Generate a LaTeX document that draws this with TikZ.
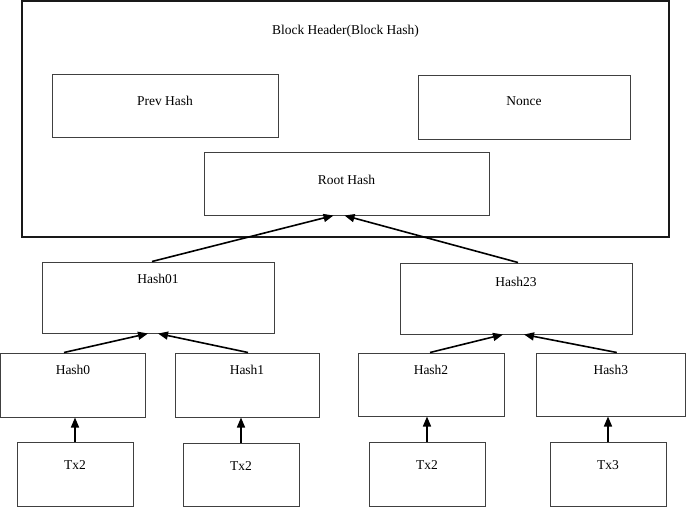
\documentclass[tikz,border=0pt]{standalone}
\usepackage{fontspec}
\setmainfont{Liberation Serif}
\usetikzlibrary{arrows.meta}

\begin{document}
\begin{tikzpicture}[x=1pt,y=-1pt,>={Triangle[length=10pt,width=8pt]},
  font=\fontsize{13.5}{16}\selectfont,
  box/.style={draw=black!75,line width=1pt,inner sep=0pt},
  tag/.style={anchor=center,yshift=-#1},
  link/.style={->,line width=1.6pt}]
\useasboundingbox (0,0) rectangle (686,507);
% block header
\node[box,draw=black!90,line width=1.4pt,minimum width=647,minimum height=236,
  label={[tag=31pt]north:Block Header(Block Hash)}] (header) at (345.5,119) {};
\node[box,minimum width=226,minimum height=63,label={[tag=27pt]north:Prev Hash}] (prev) at (165,105.5) {};
\node[box,minimum width=212,minimum height=64,label={[tag=27pt]north:Nonce}] (nonce) at (524,107) {};
\node[box,minimum width=285,minimum height=63,label={[tag=28pt]north:Root Hash}] (root) at (346.5,183.5) {};
% merkle tree
\node[box,minimum width=232,minimum height=71,label={[tag=17pt]north:Hash01}] (h01) at (158,297.5) {};
\node[box,minimum width=232,minimum height=71,label={[tag=19pt]north:Hash23}] (h23) at (516,298.5) {};
\node[box,minimum width=144.5,minimum height=64,label={[tag=17pt]north:Hash0}] (h0) at (73,385) {};
\node[box,minimum width=144,minimum height=64,label={[tag=17pt]north:Hash1}] (h1) at (247,385) {};
\node[box,minimum width=146,minimum height=63,label={[tag=17pt]north:Hash2}] (h2) at (431,384.5) {};
\node[box,minimum width=149.5,minimum height=63,label={[tag=17pt]north:Hash3}] (h3) at (610.75,384.5) {};
\node[box,minimum width=116,minimum height=64,label={[tag=24pt]north:Tx2}] (tx0) at (75,474) {};
\node[box,minimum width=116,minimum height=63,label={[tag=24pt]north:Tx2}] (tx1) at (241,474.5) {};
\node[box,minimum width=116,minimum height=64,label={[tag=24pt]north:Tx2}] (tx2) at (427,474) {};
\node[box,minimum width=116,minimum height=64,label={[tag=24pt]north:Tx3}] (tx3) at (608,474) {};
% arrows
\draw[link] ([xshift=-6pt]h01.north) -- ([xshift=-13pt]root.south);
\draw[link] ([xshift=2pt]h23.north) -- ([xshift=-2pt]root.south);
\draw[link] ([xshift=-9pt]h0.north) -- ([xshift=-10pt]h01.south);
\draw[link] ([xshift=1pt]h1.north) -- (h01.south);
\draw[link] ([xshift=-1pt]h2.north) -- ([xshift=-13pt]h23.south);
\draw[link] ([xshift=6pt]h3.north) -- ([xshift=8pt]h23.south);
\foreach \t/\h in {tx0/h0,tx1/h1,tx2/h2,tx3/h3}
  \draw[link] (\t.north) -- (\t.north |- \h.south);
\end{tikzpicture}
\end{document}
